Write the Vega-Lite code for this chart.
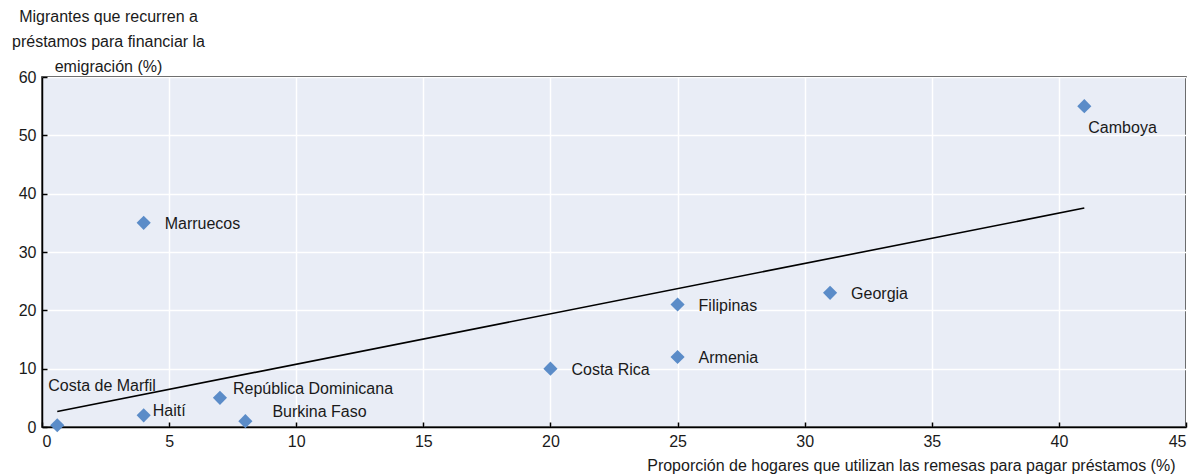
{
  "$schema": "https://vega.github.io/schema/vega-lite/v6.json",
  "width": 1144,
  "height": 350,
  "autosize": "none",
  "padding": {"left": 42, "top": 77, "right": 11, "bottom": 48},
  "background": "white",
  "config": {
    "font": "Liberation Sans",
    "view": {"fill": "#e9edf6", "stroke": "black", "strokeWidth": 1.5},
    "axis": {
      "labelFont": "Liberation Sans",
      "titleFont": "Liberation Sans",
      "labelFontSize": 16,
      "titleFontSize": 16,
      "labelColor": "#1a1a1a",
      "titleColor": "#1a1a1a",
      "titleFontWeight": "normal",
      "gridColor": "white",
      "gridWidth": 1.5,
      "gridOpacity": 1,
      "domainColor": "black",
      "domainWidth": 1.5,
      "tickColor": "black",
      "tickWidth": 1.5,
      "tickSize": -5
    }
  },
  "data": {
    "values": [
      {"pais": "Costa de Marfil", "remesas": 0.6, "prestamos": 0.3},
      {"pais": "Haití", "remesas": 4, "prestamos": 2},
      {"pais": "República Dominicana", "remesas": 7, "prestamos": 5},
      {"pais": "Burkina Faso", "remesas": 8, "prestamos": 1},
      {"pais": "Marruecos", "remesas": 4, "prestamos": 35},
      {"pais": "Costa Rica", "remesas": 20, "prestamos": 10},
      {"pais": "Filipinas", "remesas": 25, "prestamos": 21},
      {"pais": "Armenia", "remesas": 25, "prestamos": 12},
      {"pais": "Georgia", "remesas": 31, "prestamos": 23},
      {"pais": "Camboya", "remesas": 41, "prestamos": 55}
    ]
  },
  "encoding": {
    "x": {
      "field": "remesas",
      "type": "quantitative",
      "scale": {"domain": [0, 45], "nice": false, "zero": true},
      "axis": {
        "values": [0, 5, 10, 15, 20, 25, 30, 35, 40, 45],
        "labelPadding": 11,
        "title": "Proporción de hogares que utilizan las remesas para pagar préstamos (%)",
        "titleAnchor": "end",
        "titleAlign": "right",
        "titleX": 1133,
        "titleY": 38,
        "titleBaseline": "middle"
      }
    },
    "y": {
      "field": "prestamos",
      "type": "quantitative",
      "scale": {"domain": [0, 60], "nice": false},
      "axis": {
        "values": [0, 10, 20, 30, 40, 50, 60],
        "labelPadding": 11,
        "title": ["Migrantes que recurren a", "préstamos para financiar la", "emigración (%)"],
        "titleAngle": 0,
        "titleAlign": "center",
        "titleBaseline": "top",
        "titleX": 66,
        "titleY": -69,
        "titleLineHeight": 25
      }
    }
  },
  "layer": [
    {
      "mark": {"type": "point", "shape": "diamond", "filled": true, "color": "#5b8cc8", "opacity": 1, "size": 200}
    },
    {
      "transform": [{"regression": "prestamos", "on": "remesas", "method": "linear"}],
      "mark": {"type": "line", "color": "black", "strokeWidth": 1.6}
    },
    {
      "transform": [{"filter": "indexof(['Marruecos','Costa Rica','Filipinas','Armenia','Georgia'], datum.pais) >= 0"}],
      "mark": {"type": "text", "align": "left", "baseline": "middle", "dx": 21, "dy": 1, "fontSize": 16, "color": "#1a1a1a"},
      "encoding": {"text": {"field": "pais"}}
    },
    {
      "transform": [{"filter": "datum.pais === 'Haití'"}],
      "mark": {"type": "text", "align": "left", "baseline": "middle", "dx": 9, "dy": -4, "fontSize": 16, "color": "#1a1a1a"},
      "encoding": {"text": {"field": "pais"}}
    },
    {
      "transform": [{"filter": "datum.pais === 'República Dominicana'"}],
      "mark": {"type": "text", "align": "left", "baseline": "middle", "dx": 13, "dy": -9, "fontSize": 16, "color": "#1a1a1a"},
      "encoding": {"text": {"field": "pais"}}
    },
    {
      "transform": [{"filter": "datum.pais === 'Burkina Faso'"}],
      "mark": {"type": "text", "align": "left", "baseline": "middle", "dx": 27, "dy": -9, "fontSize": 16, "color": "#1a1a1a"},
      "encoding": {"text": {"field": "pais"}}
    },
    {
      "transform": [{"filter": "datum.pais === 'Costa de Marfil'"}],
      "mark": {"type": "text", "align": "left", "baseline": "middle", "dx": -9, "dy": -39, "fontSize": 16, "color": "#1a1a1a"},
      "encoding": {"text": {"field": "pais"}}
    },
    {
      "transform": [{"filter": "datum.pais === 'Camboya'"}],
      "mark": {"type": "text", "align": "left", "baseline": "middle", "dx": 4, "dy": 22, "fontSize": 16, "color": "#1a1a1a"},
      "encoding": {"text": {"field": "pais"}}
    }
  ]
}
